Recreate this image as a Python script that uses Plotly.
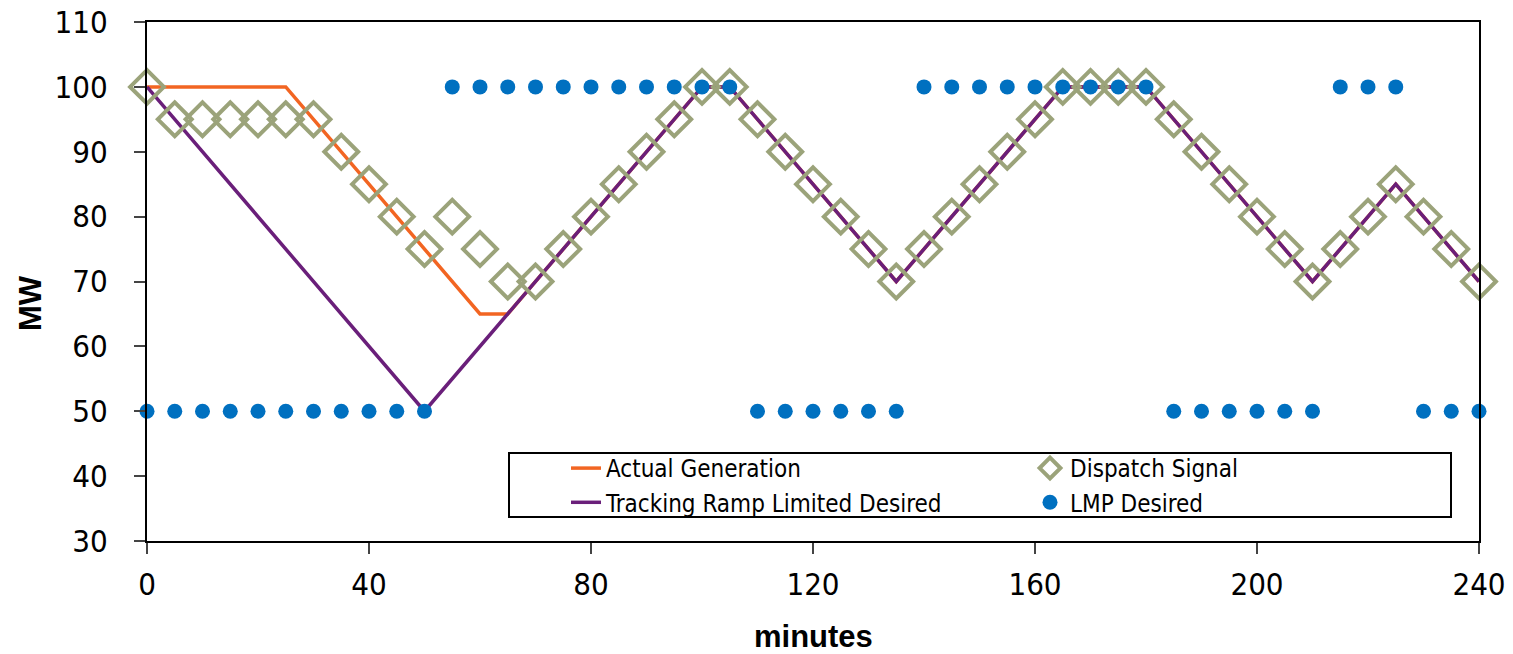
import plotly.graph_objects as go

# Data
gen_x = [0, 25, 60, 65, 100, 105, 135, 165, 180, 210, 225, 240]
gen_y = [100, 100, 65, 65, 100, 100, 70, 100, 100, 70, 85, 70]

track_x = [0, 50, 100, 105, 135, 165, 180, 210, 225, 240]
track_y = [100, 50, 100, 100, 70, 100, 100, 70, 85, 70]

minutes = list(range(0, 241, 5))
dispatch = [100, 95, 95, 95, 95, 95, 95, 90, 85, 80, 75, 80, 75, 70, 70, 75, 80, 85, 90, 95,
            100, 100, 95, 90, 85, 80, 75, 70, 75, 80, 85, 90, 95, 100, 100, 100, 100, 95, 90, 85,
            80, 75, 70, 75, 80, 85, 80, 75, 70]
lmp = [50] * 11 + [100] * 11 + [50] * 6 + [100] * 9 + [50] * 6 + [100] * 3 + [50] * 3

x_ticks = [0, 40, 80, 120, 160, 200, 240]
y_ticks = [30, 40, 50, 60, 70, 80, 90, 100, 110]

FONT = "DejaVu Sans Condensed, Liberation Sans Narrow, Arial Narrow, sans-serif"
BOLD = "Liberation Sans, Arial, sans-serif"

W, H = 1513, 654
L, R, T, B = 147, 34, 22, 113
PW, PH = W - L - R, H - T - B


def px(xp):  # page pixel -> paper x
    return (xp - L) / PW


def py(yp):  # page pixel -> paper y
    return (H - B - yp) / PH


fig = go.Figure()
fig.add_trace(go.Scatter(x=gen_x, y=gen_y, mode="lines", name="Actual Generation",
                         line=dict(color="#F26522", width=3.5), cliponaxis=False, legend="legend"))
fig.add_trace(go.Scatter(x=track_x, y=track_y, mode="lines", name="Tracking Ramp Limited Desired",
                         line=dict(color="#6A1F7A", width=3.5), cliponaxis=False, legend="legend"))
fig.add_trace(go.Scatter(x=minutes, y=dispatch, mode="markers", name="Dispatch Signal",
                         marker=dict(symbol="diamond-open", size=26, color="#9BA37A",
                                     line=dict(width=4, color="#9BA37A")), cliponaxis=False,
                         legend="legend2"))
fig.add_trace(go.Scatter(x=minutes, y=lmp, mode="markers", name="LMP Desired",
                         marker=dict(symbol="circle", size=15, color="#0070C0"), cliponaxis=False,
                         legend="legend2"))

leg_common = dict(orientation="v", yanchor="top", xanchor="left", traceorder="normal",
                  font=dict(size=24, family=FONT), bgcolor="rgba(0,0,0,0)",
                  itemwidth=30, tracegroupgap=0)

fig.update_layout(
    width=W, height=H,
    margin=dict(l=L, r=R, t=T, b=B, autoexpand=False),
    plot_bgcolor="white", paper_bgcolor="white",
    font=dict(family=FONT, color="black"),
    showlegend=True,
    legend=dict(x=px(566), y=py(446), **leg_common),
    legend2=dict(x=px(1030), y=py(446), **leg_common),
    shapes=[dict(type="rect", xref="paper", yref="paper",
                 x0=px(509), x1=px(1451), y0=py(517), y1=py(453),
                 line=dict(color="black", width=2), fillcolor="rgba(0,0,0,0)", layer="below")],
    annotations=[
        dict(text="<b>MW</b>", xref="paper", yref="paper", x=px(30), y=py(303),
             xanchor="center", yanchor="middle", textangle=-90, showarrow=False,
             font=dict(size=31, family=BOLD)),
        dict(text="<b>minutes</b>", xref="paper", yref="paper", x=px(813), y=py(636),
             xanchor="center", yanchor="middle", showarrow=False,
             font=dict(size=31, family=BOLD)),
    ],
)

fig.update_xaxes(range=[0, 240], tickvals=x_ticks, ticks="outside", ticklen=11, tickwidth=2,
                 showline=True, linecolor="black", linewidth=2, mirror=True, showgrid=False,
                 zeroline=False, automargin=False, tickfont=dict(size=31, family=FONT),
                 ticklabelstandoff=4, ticklabeloverflow="allow")
fig.update_yaxes(range=[30, 110], tickvals=y_ticks, ticks="outside", ticklen=11, tickwidth=2,
                 showline=True, linecolor="black", linewidth=2, mirror=True, showgrid=False,
                 zeroline=False, automargin=False, tickfont=dict(size=31, family=FONT),
                 ticklabelstandoff=20, ticklabeloverflow="allow")

fig.write_html("out.html", config={"displayModeBar": False},
               post_script="document.body.style.margin='0';document.body.style.overflow='hidden';")
